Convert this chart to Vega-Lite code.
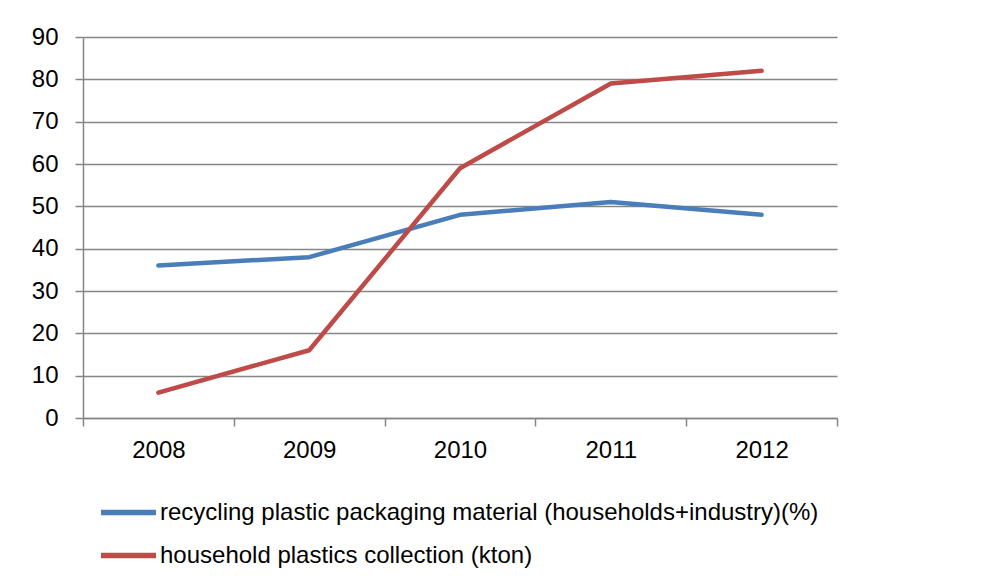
{
  "$schema": "https://vega.github.io/schema/vega-lite/v6.json",
  "width": 754,
  "height": 381,
  "autosize": {"type": "none"},
  "padding": {"left": 83, "top": 37, "right": 163, "bottom": 158},
  "background": "white",
  "config": {
    "view": {"stroke": null},
    "font": "Liberation Sans",
    "axis": {"labelFont": "Liberation Sans", "labelColor": "#000000", "labelFontSize": 24, "domainColor": "#868686", "tickColor": "#868686", "gridColor": "#868686", "domainWidth": 1.5, "tickWidth": 1.5, "gridWidth": 1.5, "tickSize": 8, "title": null}
  },
  "data": {"values": [
    {"year": "2008", "series": "recycling plastic packaging material (households+industry)(%)", "value": 36},
    {"year": "2009", "series": "recycling plastic packaging material (households+industry)(%)", "value": 38},
    {"year": "2010", "series": "recycling plastic packaging material (households+industry)(%)", "value": 48},
    {"year": "2011", "series": "recycling plastic packaging material (households+industry)(%)", "value": 51},
    {"year": "2012", "series": "recycling plastic packaging material (households+industry)(%)", "value": 48},
    {"year": "2008", "series": "household plastics collection (kton)", "value": 6},
    {"year": "2009", "series": "household plastics collection (kton)", "value": 16},
    {"year": "2010", "series": "household plastics collection (kton)", "value": 59},
    {"year": "2011", "series": "household plastics collection (kton)", "value": 79},
    {"year": "2012", "series": "household plastics collection (kton)", "value": 82}
  ]},
  "mark": {"type": "line", "strokeWidth": 4.5, "strokeCap": "round", "strokeJoin": "round"},
  "encoding": {
    "x": {"field": "year", "type": "ordinal", "bandPosition": 0.5,
      "scale": {"type": "band", "paddingInner": 0, "paddingOuter": 0},
      "axis": {"labelAngle": 0, "tickBand": "extent", "labelPadding": 12, "grid": false}},
    "y": {"field": "value", "type": "quantitative",
      "scale": {"domain": [0, 90], "nice": false},
      "axis": {"values": [0,10,20,30,40,50,60,70,80,90], "grid": true, "labelPadding": 17}},
    "color": {"field": "series", "type": "nominal",
      "scale": {"domain": ["recycling plastic packaging material (households+industry)(%)", "household plastics collection (kton)"], "range": ["#4a7ebb", "#be4b48"]},
      "legend": {"orient": "none", "legendX": 15, "legendY": 445, "title": null, "symbolType": "stroke", "symbolSize": 3025, "symbolStrokeWidth": 5.5, "labelFontSize": 24, "labelFont": "Liberation Sans", "labelColor": "#000000", "rowPadding": -12, "labelOffset": 1, "labelLimit": 900}}
  }
}
